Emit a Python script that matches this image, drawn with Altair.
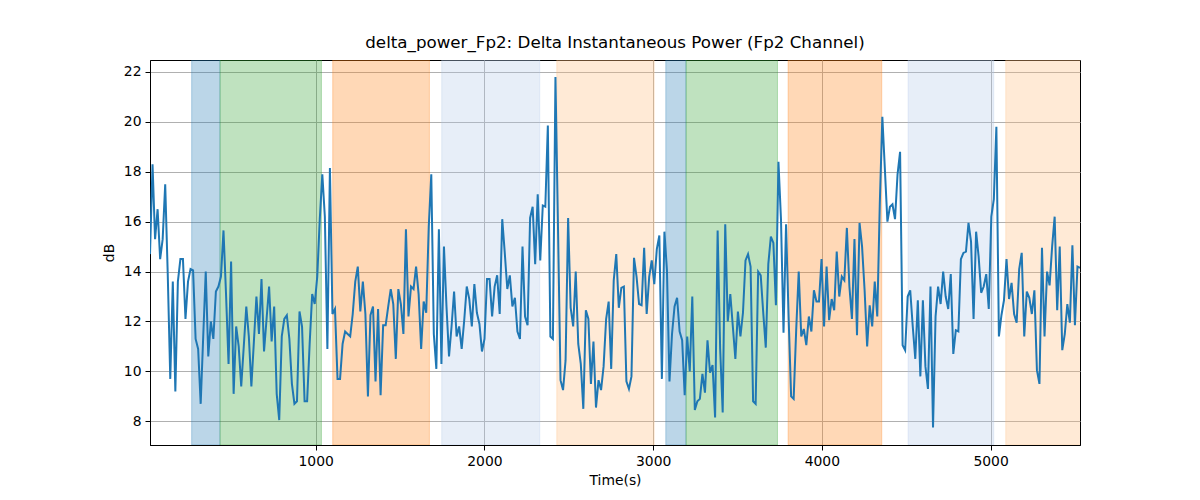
import altair as alt
import pandas as pd

# ---- data ----
seg1 = [14.7, 18.3, 15.3, 16.5, 14.5, 15.3, 17.5, 13.9, 9.7, 13.6, 9.2, 13.6, 14.5, 14.5, 12.1, 13.6,
        14.1, 14.05, 11.3, 10.9, 8.7, 11.4, 14.0, 10.6, 12.0, 11.3, 13.2, 13.4, 13.8, 15.65, 13.1, 10.3,
        14.4, 9.1, 11.8, 11.0, 9.4, 11.0, 12.6, 11.4, 9.4, 11.2, 13.0, 11.5, 13.7, 10.8, 12.1, 13.4,
        11.2, 12.6, 9.1, 8.05]
seg2 = [11.4, 12.1, 12.25, 11.3, 9.5, 8.7, 8.8, 12.4, 11.8, 8.8, 8.8, 11.1, 13.1, 12.7, 13.8, 16.1,
        17.9, 16.2, 10.9, 18.15, 12.3, 12.5, 9.7, 9.7, 11.1, 11.6, 11.5, 11.4, 12.3, 13.6, 14.2, 12.4,
        13.6, 12.3, 9.0, 12.25, 12.6, 9.6, 12.5, 9.05, 11.85, 11.85, 12.6, 13.3, 12.7, 10.5, 13.3, 12.7,
        11.5, 15.7, 12.2, 13.4, 13.3, 14.2]
seg3 = [13.1, 10.9, 12.8, 12.35, 15.8, 17.9, 11.5, 10.1, 15.7, 10.3, 15.0, 12.6, 10.6, 11.8, 13.2, 11.4,
        11.8, 10.9, 12.05, 13.4, 12.9, 11.8, 13.5, 12.35, 11.9, 10.8, 11.3, 13.7, 13.7, 12.2, 13.4, 13.85,
        12.3, 16.1, 14.75, 13.3, 13.85, 12.6, 12.95, 11.6, 11.3, 15.0, 12.2, 11.85, 16.15, 16.6, 14.3, 17.1,
        14.45, 16.65, 16.6, 19.85]
seg4 = [11.4, 11.3, 21.8, 15.8, 9.65, 9.25, 10.45, 16.15, 12.55, 11.8, 14.0, 11.1, 10.3, 8.5, 12.45, 12.1,
        9.5, 11.2, 8.55, 9.65, 9.25, 10.2, 12.1, 12.8, 10.1, 13.65, 14.7, 12.55, 13.35, 13.4, 9.6, 9.3,
        9.8, 14.55, 13.8, 12.7, 12.65, 14.95, 12.3, 13.8, 14.45, 13.5, 14.9, 15.45, 9.7, 15.6, 14.05, 9.6,
        11.5, 12.6, 12.95, 11.6, 11.25]
seg5 = [9.05, 11.4, 10.0, 13.0, 8.45, 8.8, 8.9, 9.9, 9.15, 11.25, 9.95, 10.25, 8.15, 15.65, 10.9, 8.35,
        15.9, 12.0, 13.1, 11.8, 10.5, 12.4, 11.4, 12.35, 14.45, 14.7, 14.2, 8.8, 8.7, 14.0, 13.85, 12.35,
        10.95, 14.3, 15.4, 15.15, 12.65, 18.4, 16.1, 11.55, 15.9, 12.2, 9.0, 8.9, 11.65, 14.0, 11.4, 11.7,
        11.05, 12.2, 11.6, 13.25, 12.8]
seg6 = [12.8, 14.5, 11.8, 14.2, 12.05, 12.9, 12.45, 14.8, 13.0, 13.8, 13.65, 15.75, 13.4, 12.1, 15.3, 11.45,
        15.95, 15.0, 13.25, 11.0, 12.65, 11.8, 13.6, 12.2, 16.75, 20.2, 18.1, 16.0, 16.6, 16.7, 16.1, 17.9,
        18.8, 11.05, 10.85, 13.0, 13.25, 11.8, 10.5, 12.85, 9.8, 12.85, 10.2, 9.3, 13.4, 7.75, 12.2, 13.4,
        12.7, 14.0, 13.0, 12.5]
seg7 = [13.9, 10.7, 11.65, 11.6, 14.5, 14.75, 14.8, 15.95, 15.2, 12.1, 15.6, 14.6, 13.15, 13.4, 13.9, 12.5,
        16.2, 16.9, 19.8, 11.4, 12.25, 12.85, 14.5, 12.9, 13.55, 12.3, 11.95, 14.1, 14.75, 11.4, 13.2, 12.95,
        12.3, 13.25, 10.05, 9.5, 14.95, 11.4, 14.0, 13.45, 15.0, 16.2, 12.45, 15.0, 10.85, 11.5, 12.7, 11.95,
        15.05, 11.85, 14.2, 14.15]

power_db = seg1 + seg2 + seg3 + seg4 + seg5 + seg6 + seg7
T_START = 18.0
T_END = 5530.0

band_start = [265, 433, 1101, 1747, 2429, 3075, 3195, 3800, 4511, 5090]
band_end = [433, 1034, 1674, 2328, 3006, 3195, 3737, 4355, 5019, 5600]
band_kind = ["a", "b", "c", "d", "e", "a", "b", "c", "d", "e"]
kind_names = ["a", "b", "c", "d", "e"]
kind_colors = ["#1f77b4", "#2ca02c", "#ff7f0e", "#aec7e8", "#ffbb78"]

x_ticks = [1000, 2000, 3000, 4000, 5000]
y_ticks = [8, 10, 12, 14, 16, 18, 20, 22]

n = len(power_db)
step = (T_END - T_START) / (n - 1)
df = pd.DataFrame({"t": [T_START + i * step for i in range(n)], "db": power_db})
bdf = pd.DataFrame({"start": band_start, "end": band_end, "kind": band_kind})

FONT = "DejaVu Sans"
xscale = alt.Scale(domain=[T_START, T_END], nice=False, zero=False)
yscale = alt.Scale(domain=[7.05, 22.48], nice=False, zero=False)

bands = alt.Chart(bdf).mark_rect(fillOpacity=0.3, strokeOpacity=0.3, strokeWidth=1, clip=True).encode(
    x=alt.X("start:Q", scale=xscale,
            axis=alt.Axis(values=x_ticks, format="d", title="Time(s)")),
    x2="end:Q",
    color=alt.Color("kind:N", scale=alt.Scale(domain=kind_names, range=kind_colors), legend=None),
    stroke=alt.Stroke("kind:N", scale=alt.Scale(domain=kind_names, range=kind_colors), legend=None),
)

line = alt.Chart(df).mark_line(color="#1f77b4", strokeWidth=2, clip=True).encode(
    x=alt.X("t:Q", scale=xscale),
    y=alt.Y("db:Q", scale=yscale, axis=alt.Axis(values=y_ticks, format="d", title="dB")),
)

chart = alt.layer(bands, line).properties(
    width=930,
    height=385,
    autosize=alt.AutoSizeParams(type="none"),
    padding={"left": 142, "top": 52, "right": 112, "bottom": 47},
    title=alt.TitleParams(
        "delta_power_Fp2: Delta Instantaneous Power (Fp2 Channel)",
        font=FONT, fontSize=16.7, fontWeight="normal", color="black",
        anchor="middle", offset=8,
    ),
).configure_view(
    stroke="black", strokeWidth=1
).configure_axis(
    grid=True, gridColor="#b0b0b0", gridWidth=1,
    domainColor="black", domainWidth=1,
    tickColor="black", tickSize=5, tickWidth=1,
    labelFont=FONT, labelFontSize=13.9, labelColor="black", labelPadding=4,
    titleFont=FONT, titleFontSize=13.9, titleFontWeight="normal", titleColor="black",
).configure_axisX(
    titlePadding=6
).configure_axisY(
    titlePadding=7
)

chart.save("out.html", embed_options={"renderer": "svg", "actions": False})
